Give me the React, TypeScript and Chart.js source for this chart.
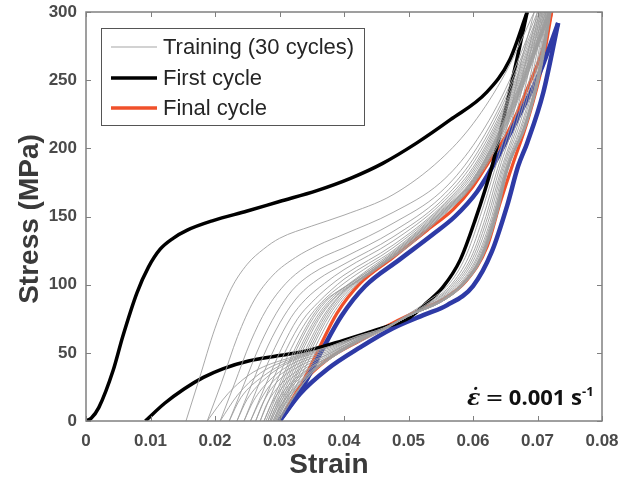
import React, { useEffect, useRef } from "react";
import { Chart, registerables } from "chart.js";

Chart.register(...registerables);

type Pt = [number, number];

// Axis ticks
const xTickValues = [0, 0.01, 0.02, 0.03, 0.04, 0.05, 0.06, 0.07, 0.08];
const xTickLabels = ["0", "0.01", "0.02", "0.03", "0.04", "0.05", "0.06", "0.07", "0.08"];
const yTickValues = [0, 50, 100, 150, 200, 250, 300];
const yTickLabels = ["0", "50", "100", "150", "200", "250", "300"];

const xTitle = "Strain";
const yTitle = "Stress (MPa)";
const legendLabels = ["Training (30 cycles)", "First cycle", "Final cycle"];

// First cycle (black)
const firstLoading: Pt[] = [
  [0, 0], [0.0008, 2], [0.002, 10], [0.0042, 37], [0.0057, 62], [0.0079, 94],
  [0.0097, 113], [0.0115, 126], [0.0135, 134], [0.0157, 140], [0.0197, 147], [0.025, 154],
  [0.03, 161], [0.0358, 169], [0.041, 178], [0.046, 189], [0.0513, 204],
  [0.0565, 221], [0.0621, 241], [0.0657, 265], [0.0684, 300],
];
const firstUnloading: Pt[] = [
  [0.0684, 300], [0.0668, 265], [0.0647, 221], [0.0629, 186], [0.0603, 147],
  [0.058, 118], [0.0553, 98], [0.0529, 87], [0.0502, 76], [0.0451, 67],
  [0.0398, 59], [0.0347, 52], [0.03, 48], [0.0252, 44], [0.0212, 38.3],
  [0.0182, 32], [0.0152, 23.5], [0.0122, 13], [0.0092, 0],
];

// Final cycle (red)
const finalLoading: Pt[] = [
  [0.03, 0], [0.0332, 25], [0.036, 52], [0.0389, 79], [0.0425, 101], [0.0476, 120],
  [0.0529, 140], [0.0569, 155], [0.06, 172], [0.0626, 191], [0.0653, 211],
  [0.0688, 248], [0.0709, 274], [0.0722, 300],
];
const finalUnloading: Pt[] = [
  [0.0722, 300], [0.0707, 260], [0.0685, 221], [0.066, 186], [0.0642, 160],
  [0.0622, 128], [0.059, 103], [0.0553, 89], [0.0525, 83], [0.0476, 72],
  [0.0425, 59], [0.0374, 45], [0.0336, 28], [0.03, 0],
];

// Model cycle (blue, not in legend)
const modelLoading: Pt[] = [
  [0.03, 0], [0.0336, 25], [0.0366, 52], [0.0396, 77], [0.0433, 99], [0.0485, 118],
  [0.0538, 137], [0.0572, 150], [0.0606, 168], [0.0632, 188], [0.0668, 221],
  [0.0704, 256], [0.0732, 292],
];
const modelUnloading: Pt[] = [
  [0.0732, 292], [0.0709, 241], [0.0684, 204], [0.067, 187], [0.0653, 158],
  [0.0629, 124], [0.06, 99], [0.056, 85], [0.0525, 78], [0.0476, 68],
  [0.0425, 54], [0.0374, 38], [0.0332, 20], [0.03, 0],
];

// Training cycles (gray) — loading branches
const trainingLoading: Pt[][] = [
  [[0.0155, 0], [0.0175, 30], [0.02, 68], [0.0225, 97], [0.025, 115], [0.0275, 126], [0.03, 134], [0.035, 143], [0.04, 151], [0.0476, 166], [0.055, 192], [0.06, 218], [0.065, 255], [0.0695, 300]],
  [[0.0188, 0], [0.021, 28], [0.0235, 62], [0.026, 88], [0.029, 107], [0.0325, 120], [0.036, 129], [0.04, 137], [0.0476, 153], [0.055, 175], [0.06, 202], [0.065, 243], [0.07, 300]],
  [[0.0208, 0], [0.023, 27], [0.0255, 58], [0.028, 82], [0.031, 101], [0.034, 113], [0.037, 121], [0.04, 127], [0.0476, 145], [0.055, 168], [0.06, 196], [0.065, 239], [0.0703, 300]],
  [[0.0222, 0], [0.0245, 27], [0.027, 56], [0.0295, 79], [0.032, 96], [0.035, 108], [0.04, 120], [0.0476, 139], [0.055, 164], [0.06, 192], [0.065, 236], [0.0705, 300]],
  [[0.0234, 0], [0.0257, 27], [0.0282, 55], [0.0307, 77], [0.033, 92], [0.036, 104], [0.04, 115], [0.0476, 135], [0.055, 161], [0.06, 189], [0.065, 233], [0.0707, 300]],
  [[0.0245, 0], [0.0268, 27], [0.0293, 54], [0.0318, 76], [0.034, 89], [0.037, 101], [0.04, 111], [0.0476, 132], [0.055, 159], [0.06, 186], [0.065, 231], [0.0709, 300]],
  [[0.0255, 0], [0.0278, 26], [0.0303, 53], [0.0328, 75], [0.035, 87], [0.0375, 98], [0.04, 107], [0.0476, 129], [0.055, 157], [0.06, 184], [0.065, 229], [0.0711, 300]],
  [[0.0263, 0], [0.0286, 26], [0.0311, 53], [0.0336, 74], [0.036, 87], [0.038, 96], [0.04, 104], [0.0476, 127], [0.055, 156], [0.06, 182], [0.065, 227], [0.0713, 300]],
  [[0.027, 0], [0.0293, 26], [0.0318, 53], [0.0343, 74], [0.0365, 87], [0.04, 101], [0.044, 114], [0.0476, 125], [0.055, 155], [0.06, 180], [0.065, 225], [0.0714, 300]],
  [[0.0276, 0], [0.0299, 26], [0.0324, 53], [0.035, 76], [0.037, 88], [0.04, 98], [0.044, 112], [0.0476, 124], [0.055, 154], [0.06, 178], [0.065, 223], [0.0716, 300]],
  [[0.0279, 0], [0.0302, 26], [0.0327, 53], [0.0353, 76], [0.0377, 90], [0.041, 101], [0.0476, 123], [0.055, 153], [0.06, 177], [0.065, 222], [0.0717, 300]],
  [[0.0282, 0], [0.0305, 26], [0.033, 52], [0.0357, 76], [0.0385, 92], [0.042, 104], [0.0476, 123], [0.055, 153], [0.06, 177], [0.065, 221], [0.0718, 300]],
  [[0.0285, 0], [0.0308, 26], [0.0333, 52], [0.036, 76], [0.0388, 92], [0.0423, 104], [0.0476, 122], [0.055, 152], [0.06, 176], [0.065, 220], [0.0718, 300]],
  [[0.0287, 0], [0.031, 25], [0.0336, 52], [0.0364, 77], [0.039, 92], [0.0425, 104], [0.0476, 122], [0.055, 152], [0.06, 176], [0.065, 219], [0.0719, 300]],
  [[0.029, 0], [0.0313, 25], [0.034, 52], [0.0368, 77], [0.0395, 93], [0.0428, 105], [0.0476, 121], [0.055, 151], [0.06, 175], [0.065, 218], [0.0719, 300]],
  [[0.0292, 0], [0.0316, 25], [0.0343, 52], [0.0372, 78], [0.04, 95], [0.043, 106], [0.0476, 121], [0.055, 151], [0.06, 175], [0.065, 217], [0.072, 300]],
  [[0.0294, 0], [0.0318, 25], [0.0346, 52], [0.0375, 78], [0.0405, 96], [0.0438, 108], [0.049, 125], [0.055, 150], [0.06, 174], [0.065, 216], [0.072, 300]],
  [[0.0296, 0], [0.0321, 25], [0.0349, 52], [0.0378, 78], [0.041, 97], [0.0445, 110], [0.05, 129], [0.055, 150], [0.06, 174], [0.065, 215], [0.0721, 300]],
  [[0.0298, 0], [0.0325, 25], [0.0353, 52], [0.0382, 78], [0.0415, 98], [0.045, 111], [0.05, 128], [0.055, 149], [0.06, 173], [0.065, 213], [0.0721, 300]],
];

// Training cycles (gray) — unloading branches
const trainingUnloading: Pt[][] = [
  [[0.0695, 300], [0.0673, 260], [0.0655, 220], [0.0634, 185], [0.0611, 150], [0.0588, 120], [0.0562, 100], [0.053, 88], [0.0495, 77], [0.046, 68], [0.042, 62], [0.038, 55], [0.032, 47], [0.026, 36], [0.022, 20], [0.0188, 0]],
  [[0.07, 300], [0.068, 260], [0.066, 220], [0.0638, 185], [0.0616, 150], [0.0593, 120], [0.0566, 100], [0.0535, 88], [0.0497, 77], [0.046, 68], [0.042, 62], [0.038, 55], [0.032, 46], [0.027, 35], [0.0235, 19], [0.0208, 0]],
  [[0.0703, 300], [0.0684, 260], [0.0664, 220], [0.0641, 185], [0.062, 150], [0.0597, 120], [0.0569, 100], [0.0538, 88], [0.0498, 77], [0.046, 67], [0.042, 61], [0.038, 54], [0.032, 45], [0.0275, 33], [0.024, 17], [0.0222, 0]],
  [[0.0705, 300], [0.0688, 260], [0.0668, 220], [0.0644, 185], [0.0623, 150], [0.06, 120], [0.0572, 100], [0.054, 88], [0.0499, 77], [0.046, 67], [0.042, 61], [0.038, 53], [0.032, 44], [0.028, 32], [0.025, 16], [0.0234, 0]],
  [[0.0707, 300], [0.0692, 260], [0.0671, 220], [0.0646, 185], [0.0626, 150], [0.0603, 120], [0.0575, 100], [0.0543, 88], [0.05, 77], [0.046, 67], [0.042, 61], [0.038, 52], [0.032, 42], [0.0285, 30], [0.026, 15], [0.0245, 0]],
  [[0.0709, 300], [0.0695, 260], [0.0674, 220], [0.0648, 185], [0.0629, 150], [0.0606, 120], [0.0578, 100], [0.0545, 88], [0.05, 77], [0.046, 67], [0.042, 60], [0.038, 51], [0.0325, 41], [0.029, 29], [0.027, 15], [0.0255, 0]],
  [[0.0711, 300], [0.0698, 260], [0.0677, 220], [0.065, 185], [0.0631, 150], [0.0608, 120], [0.058, 100], [0.0547, 88], [0.05, 77], [0.046, 67], [0.042, 60], [0.038, 50], [0.033, 40], [0.0295, 28], [0.0275, 14], [0.0263, 0]],
  [[0.0713, 300], [0.07, 260], [0.0679, 220], [0.0651, 185], [0.0632, 150], [0.061, 120], [0.0581, 100], [0.0549, 88], [0.05, 77], [0.046, 67], [0.042, 60], [0.038, 50], [0.0335, 39], [0.03, 26], [0.028, 12], [0.027, 0]],
  [[0.0714, 300], [0.0702, 260], [0.0681, 220], [0.0652, 185], [0.0633, 150], [0.0611, 120], [0.0582, 100], [0.055, 88], [0.05, 77], [0.046, 67], [0.042, 59], [0.038, 49], [0.0338, 38], [0.0305, 25], [0.0287, 12], [0.0276, 0]],
  [[0.0716, 300], [0.0703, 260], [0.0682, 220], [0.0653, 185], [0.0634, 150], [0.0612, 120], [0.0583, 100], [0.0551, 88], [0.05, 77], [0.046, 67], [0.042, 59], [0.038, 48], [0.034, 37], [0.031, 24], [0.0292, 11], [0.0282, 0]],
  [[0.0717, 300], [0.0703, 260], [0.0682, 220], [0.0653, 185], [0.0634, 150], [0.0612, 120], [0.0583, 100], [0.0551, 88], [0.05, 77], [0.046, 67], [0.042, 59], [0.038, 48], [0.0342, 37], [0.0312, 23], [0.0294, 10], [0.0285, 0]],
  [[0.0718, 300], [0.0704, 260], [0.0683, 220], [0.0653, 185], [0.0635, 150], [0.0613, 120], [0.0584, 100], [0.0552, 88], [0.05, 77], [0.046, 67], [0.042, 59], [0.038, 48], [0.0345, 37], [0.0315, 23], [0.0297, 10], [0.0287, 0]],
  [[0.0718, 300], [0.0704, 260], [0.0683, 220], [0.0653, 185], [0.0635, 150], [0.0613, 120], [0.0584, 100], [0.0552, 88], [0.05, 77], [0.046, 67], [0.042, 58], [0.038, 47], [0.0346, 36], [0.0318, 22], [0.0299, 9], [0.029, 0]],
  [[0.0719, 300], [0.0705, 260], [0.0684, 220], [0.0654, 185], [0.0635, 150], [0.0613, 120], [0.0584, 100], [0.0552, 88], [0.05, 77], [0.046, 67], [0.042, 58], [0.038, 47], [0.0348, 36], [0.032, 22], [0.03, 9], [0.0292, 0]],
  [[0.0719, 300], [0.0705, 260], [0.0684, 220], [0.0654, 185], [0.0635, 150], [0.0613, 120], [0.0584, 100], [0.0552, 88], [0.05, 77], [0.046, 67], [0.042, 58], [0.038, 47], [0.0349, 36], [0.0321, 21], [0.0303, 9], [0.0294, 0]],
  [[0.072, 300], [0.0706, 260], [0.0684, 220], [0.0654, 185], [0.0636, 150], [0.0614, 120], [0.0585, 100], [0.0553, 88], [0.05, 77], [0.046, 67], [0.042, 58], [0.038, 47], [0.035, 36], [0.0322, 21], [0.0305, 9], [0.0296, 0]],
  [[0.072, 300], [0.0706, 260], [0.0684, 220], [0.0654, 185], [0.0636, 150], [0.0614, 120], [0.0585, 100], [0.0553, 88], [0.05, 77], [0.046, 67], [0.042, 58], [0.038, 46], [0.035, 35], [0.0324, 20], [0.0308, 9], [0.0298, 0]],
  [[0.0721, 300], [0.0706, 260], [0.0685, 220], [0.0654, 185], [0.0636, 150], [0.0614, 120], [0.0585, 100], [0.0553, 88], [0.05, 77], [0.046, 67], [0.042, 58], [0.038, 46], [0.035, 35], [0.0325, 20], [0.031, 9], [0.0299, 0]],
  [[0.0721, 300], [0.0707, 260], [0.0685, 220], [0.0655, 185], [0.0637, 150], [0.0615, 120], [0.0586, 100], [0.0553, 88], [0.05, 77], [0.046, 66], [0.042, 57], [0.038, 46], [0.035, 35], [0.0326, 20], [0.0311, 9], [0.03, 0]],
];

const GRAY = "rgba(158,158,158,0.9)";
const BLACK = "#000000";
const RED = "#f0502a";
const BLUE = "#2e3aa6";

const toXY = (pts: Pt[]) => pts.map(([x, y]) => ({ x, y }));

const decorPlugin = {
  id: "decor",
  afterDatasetsDraw(chart: any) {
    const { ctx, chartArea: a, scales } = chart;
    const xs = scales.x;
    const ys = scales.y;
    ctx.save();
    // frame
    ctx.strokeStyle = "#808080";
    ctx.lineWidth = 1.5;
    ctx.strokeRect(a.left, a.top, a.right - a.left, a.bottom - a.top);
    // inward ticks on all four sides
    ctx.lineWidth = 1;
    ctx.beginPath();
    const tl = 5;
    xTickValues.forEach((v) => {
      const px = Math.round(xs.getPixelForValue(v)) + 0.5;
      ctx.moveTo(px, a.bottom);
      ctx.lineTo(px, a.bottom - tl);
      ctx.moveTo(px, a.top);
      ctx.lineTo(px, a.top + tl);
    });
    yTickValues.forEach((v) => {
      const py = Math.round(ys.getPixelForValue(v)) + 0.5;
      ctx.moveTo(a.left, py);
      ctx.lineTo(a.left + tl, py);
      ctx.moveTo(a.right, py);
      ctx.lineTo(a.right - tl, py);
    });
    ctx.stroke();

    // legend box
    const lx = a.left + 15;
    const ly = a.top + 16;
    const lw = 263;
    const lh = 97;
    ctx.fillStyle = "#ffffff";
    ctx.fillRect(lx, ly, lw, lh);
    ctx.strokeStyle = "#555555";
    ctx.lineWidth = 1;
    ctx.strokeRect(lx + 0.5, ly + 0.5, lw, lh);
    const rows = [ly + 19, ly + 50, ly + 80];
    const styles = [
      { c: "#a6a6a6", w: 1.2 },
      { c: BLACK, w: 3.5 },
      { c: RED, w: 3.5 },
    ];
    ctx.font = '22px "Liberation Sans", Arial, sans-serif';
    ctx.textBaseline = "middle";
    ctx.textAlign = "left";
    legendLabels.forEach((lab, i) => {
      ctx.strokeStyle = styles[i].c;
      ctx.lineWidth = styles[i].w;
      ctx.beginPath();
      ctx.moveTo(lx + 10, rows[i]);
      ctx.lineTo(lx + 56, rows[i]);
      ctx.stroke();
      ctx.fillStyle = "#262626";
      ctx.fillText(lab, lx + 62, rows[i] + 1);
    });

    // axis titles
    ctx.fillStyle = "#3a3a3a";
    ctx.font = 'bold 28px "Liberation Sans", Arial, sans-serif';
    ctx.textAlign = "center";
    ctx.textBaseline = "alphabetic";
    ctx.fillText(xTitle, (a.left + a.right) / 2 - 15, 473);
    ctx.save();
    ctx.translate(38, 219);
    ctx.rotate(-Math.PI / 2);
    ctx.fillText(yTitle, 0, 0);
    ctx.restore();

    // rate annotation
    const by = a.bottom - 16;
    let x = 467;
    ctx.fillStyle = "#111111";
    ctx.textAlign = "left";
    ctx.font = 'italic bold 22px "DejaVu Serif", serif';
    ctx.fillText("\u03B5\u0307", x, by);
    x += ctx.measureText("\u03B5").width + 5;
    ctx.font = '22px "DejaVu Sans", sans-serif';
    ctx.fillText("=", x, by);
    x += ctx.measureText("=").width + 5;
    ctx.font = 'bold 22px "Open Sans", sans-serif';
    const num = "0.001 s";
    ctx.fillText(num, x, by);
    x += ctx.measureText(num).width;
    ctx.font = 'bold 13px "Open Sans", sans-serif';
    ctx.fillText("-1", x, by - 9);
    ctx.restore();
  },
};

export default function App() {
  const ref = useRef<HTMLCanvasElement | null>(null);

  useEffect(() => {
    if (!ref.current) return;
    const base = {
      showLine: true,
      pointRadius: 0,
      pointHoverRadius: 0,
      fill: false,
      cubicInterpolationMode: "monotone" as const,
    };
    const datasets: any[] = [];
    trainingLoading.forEach((c, i) => {
      datasets.push({ ...base, label: `Training ${i + 2} loading`, data: toXY(c), borderColor: GRAY, borderWidth: 1 });
    });
    trainingUnloading.forEach((c, i) => {
      datasets.push({ ...base, label: `Training ${i + 2} unloading`, data: toXY(c), borderColor: GRAY, borderWidth: 1 });
    });
    datasets.push({ ...base, label: "First cycle loading", data: toXY(firstLoading), borderColor: BLACK, borderWidth: 3.5 });
    datasets.push({ ...base, label: "First cycle unloading", data: toXY(firstUnloading), borderColor: BLACK, borderWidth: 3.5 });
    datasets.push({ ...base, label: "Model loading", data: toXY(modelLoading), borderColor: BLUE, borderWidth: 4.5 });
    datasets.push({ ...base, label: "Model unloading", data: toXY(modelUnloading), borderColor: BLUE, borderWidth: 4.5 });
    datasets.push({ ...base, label: "Final cycle loading", data: toXY(finalLoading), borderColor: RED, borderWidth: 3.2 });
    datasets.push({ ...base, label: "Final cycle unloading", data: toXY(finalUnloading), borderColor: RED, borderWidth: 3.2 });

    const tickFont = { family: '"Liberation Sans", Arial, sans-serif', size: 17, weight: "bold" as const };

    const chart = new Chart(ref.current, {
      type: "scatter",
      data: { datasets },
      plugins: [decorPlugin],
      options: {
        animation: false,
        responsive: false,
        maintainAspectRatio: false,
        layout: { padding: { left: 0, top: 12, right: 30, bottom: 0 } },
        plugins: {
          legend: { display: false },
          tooltip: { enabled: false },
        },
        scales: {
          x: {
            type: "linear",
            min: 0,
            max: 0.08,
            grid: { display: false, drawTicks: false },
            border: { display: false },
            afterBuildTicks: (s: any) => {
              s.ticks = xTickValues.map((v) => ({ value: v }));
            },
            afterFit: (s: any) => {
              s.height = 58;
              s.paddingLeft = 0;
              s.paddingRight = 0;
            },
            ticks: {
              font: tickFont,
              color: "#4a4a4a",
              padding: 10,
              maxRotation: 0,
              autoSkip: false,
              callback: (_v: any, i: number) => xTickLabels[i],
            },
          },
          y: {
            type: "linear",
            min: 0,
            max: 300,
            grid: { display: false, drawTicks: false },
            border: { display: false },
            afterBuildTicks: (s: any) => {
              s.ticks = yTickValues.map((v) => ({ value: v }));
            },
            afterFit: (s: any) => {
              s.width = 86;
              s.paddingTop = 0;
              s.paddingBottom = 0;
            },
            ticks: {
              font: tickFont,
              color: "#4a4a4a",
              padding: 9,
              autoSkip: false,
              callback: (_v: any, i: number) => yTickLabels[i],
            },
          },
        },
      },
    });
    return () => chart.destroy();
  }, []);

  return (
    <div style={{ position: "absolute", left: 0, top: 0, width: 632, height: 479, background: "#fff" }}>
      <canvas ref={ref} width={632} height={479} style={{ width: 632, height: 479, display: "block" }} />
    </div>
  );
}
